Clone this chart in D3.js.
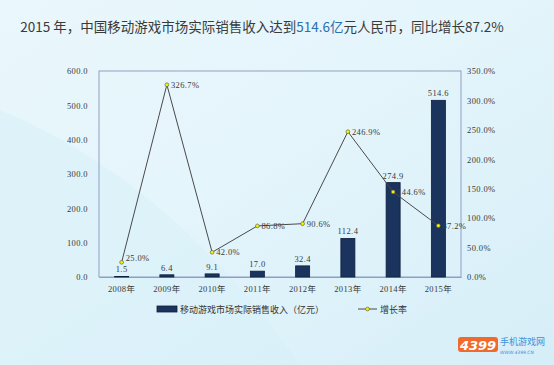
<!DOCTYPE html>
<html lang="zh">
<head>
<meta charset="utf-8" />
<title>2015 中国移动游戏市场</title>
<style>
  body { margin: 0; background: #def2fa; }
  svg { display: block; }
  .title { font-family: 'Noto Sans CJK SC', sans-serif; font-size: 13.5px; fill: #3a3a3a; }
  .tick text, .lbl { font-family: 'Liberation Serif', 'Noto Sans CJK SC', serif; font-size: 8.5px; fill: #3a3a3a; letter-spacing: 0.4px; }
  .legend text { font-family: 'Noto Sans CJK SC', serif; font-size: 9px; fill: #333; }
</style>
<script src="https://cdn.jsdelivr.net/npm/d3@7"></script>
</head>
<body>
<svg id="vis" width="554" height="365"></svg>
<script>
var years = ["2008年", "2009年", "2010年", "2011年", "2012年", "2013年", "2014年", "2015年"];
var revenue = [1.5, 6.4, 9.1, 17.0, 32.4, 112.4, 274.9, 514.6];
var growth = [25.0, 326.7, 42.0, 86.8, 90.6, 246.9, 144.6, 87.2];
var leftTicks = [0, 100, 200, 300, 400, 500, 600];
var rightTicks = [0, 50, 100, 150, 200, 250, 300, 350];

var W = 554, H = 365;
var margin = { top: 71, left: 99, right: 93, bottom: 88 };

var svg = d3.select("#vis");

// background
var defs = svg.append("defs");
var bg = defs.append("linearGradient").attr("id", "bg").attr("x1", 0).attr("y1", 0).attr("x2", 1).attr("y2", 1);
bg.append("stop").attr("offset", "0%").attr("stop-color", "#eaf7fc");
bg.append("stop").attr("offset", "45%").attr("stop-color", "#e4f5fb");
bg.append("stop").attr("offset", "100%").attr("stop-color", "#d6eef8");
svg.append("rect").attr("width", W).attr("height", H).attr("fill", "url(#bg)");
svg.append("path").attr("d", "M0,110 C120,160 220,250 300,365 L0,365 Z").attr("fill", "#d9f0f9").attr("opacity", 0.6);

// title
var title = svg.append("text").attr("class", "title").attr("x", 262).attr("y", 32).attr("text-anchor", "middle");
title.append("tspan").text("2015 年，中国移动游戏市场实际销售收入达到");
title.append("tspan").attr("fill", "#2b6fae").text("514.6亿");
title.append("tspan").text("元人民币，同比增长87.2%");

var x = d3.scaleBand().domain(years).range([margin.left, W - margin.right]).paddingInner(0.69).paddingOuter(0.345);
var xc = function (d) { return x(d) + x.bandwidth() / 2; };
var yL = d3.scaleLinear().domain([0, 600]).range([H - margin.bottom, margin.top]);
var yR = d3.scaleLinear().domain([0, 350]).range([H - margin.bottom, margin.top]);

// plot frame
svg.append("rect").attr("x", margin.left).attr("y", margin.top)
  .attr("width", W - margin.left - margin.right).attr("height", H - margin.top - margin.bottom)
  .attr("fill", "none").attr("stroke", "#8f9fc4").attr("stroke-width", 1);

// axes
var axL = svg.append("g").attr("transform", "translate(" + margin.left + ",0)")
  .call(d3.axisLeft(yL).tickValues(leftTicks).tickSize(0).tickPadding(11).tickFormat(d3.format(".1f")));
axL.select(".domain").remove();

var axR = svg.append("g").attr("transform", "translate(" + (W - margin.right) + ",0)")
  .call(d3.axisRight(yR).tickValues(rightTicks).tickSize(0).tickPadding(6).tickFormat(function (d) { return d.toFixed(1) + "%"; }));
axR.select(".domain").remove();

var axB = svg.append("g").attr("transform", "translate(0," + (H - margin.bottom) + ")")
  .call(d3.axisBottom(x).tickSize(0).tickPadding(9));
axB.select(".domain").attr("stroke", "#8f9fc4");

// bars
svg.append("g").selectAll("rect").data(revenue).enter().append("rect")
  .attr("x", function (d, i) { return x(years[i]); })
  .attr("width", x.bandwidth())
  .attr("y", function (d) { return yL(d); })
  .attr("height", function (d) { return yL(0) - yL(d); })
  .attr("fill", "#1b345e").attr("stroke", "#0e1f3d").attr("stroke-width", 0.8);

svg.append("g").selectAll("text").data(revenue).enter().append("text").attr("class", "lbl")
  .attr("x", function (d, i) { return xc(years[i]); })
  .attr("y", function (d) { return yL(d) - 4; })
  .attr("text-anchor", "middle")
  .text(function (d) { return d.toFixed(1); });

// growth line
var line = d3.line().x(function (d, i) { return xc(years[i]); }).y(function (d) { return yR(d); });
svg.append("path").datum(growth).attr("d", line).attr("fill", "none").attr("stroke", "#4a4a4a").attr("stroke-width", 1);

svg.append("g").selectAll("circle").data(growth).enter().append("circle")
  .attr("cx", function (d, i) { return xc(years[i]); })
  .attr("cy", function (d) { return yR(d); })
  .attr("r", 1.9)
  .attr("fill", "#f2f200").attr("stroke", "#555").attr("stroke-width", 0.6);

svg.append("g").selectAll("text").data(growth).enter().append("text").attr("class", "lbl")
  .attr("x", function (d, i) { return xc(years[i]) + 4; })
  .attr("y", function (d, i) { return yR(d) + (i == 0 ? -1 : 3); })
  .text(function (d) { return d.toFixed(1) + "%"; });

// legend
var lg = svg.append("g").attr("class", "legend").attr("transform", "translate(0,309)");
lg.append("rect").attr("x", 157).attr("y", -3).attr("width", 20).attr("height", 6)
  .attr("fill", "#1b345e").attr("stroke", "#0e1f3d").attr("stroke-width", 0.8);
lg.append("text").attr("x", 180).attr("y", 3.5).text("移动游戏市场实际销售收入（亿元）");
lg.append("line").attr("x1", 358).attr("x2", 377).attr("y1", 0).attr("y2", 0).attr("stroke", "#4a4a4a");
lg.append("circle").attr("cx", 367.5).attr("cy", 0).attr("r", 1.9)
  .attr("fill", "#f2f200").attr("stroke", "#555").attr("stroke-width", 0.6);
lg.append("text").attr("x", 380).attr("y", 3.5).text("增长率");

// logo
var logo = svg.append("g").attr("transform", "translate(458,350)");
logo.append("rect").attr("x", 0).attr("y", -13).attr("width", 40).attr("height", 15).attr("rx", 3).attr("fill", "#f26a2b");
logo.append("text").attr("x", 20).attr("y", 0).attr("text-anchor", "middle")
  .attr("font-family", "'DejaVu Sans', sans-serif").attr("font-weight", "bold").attr("font-style", "italic")
  .attr("font-size", 13).attr("fill", "#fff").text("4399");
logo.append("text").attr("x", 42).attr("y", -5).attr("font-family", "'Noto Sans CJK SC', sans-serif")
  .attr("font-size", 9).attr("fill", "#3f8fd8").text("手机游戏网");
logo.append("text").attr("x", 42).attr("y", 4).attr("font-family", "'DejaVu Sans', sans-serif").attr("font-style", "italic")
  .attr("font-size", 4.5).attr("fill", "#3f8fd8").text("WWW.4399.CN");
</script>
</body>
</html>
